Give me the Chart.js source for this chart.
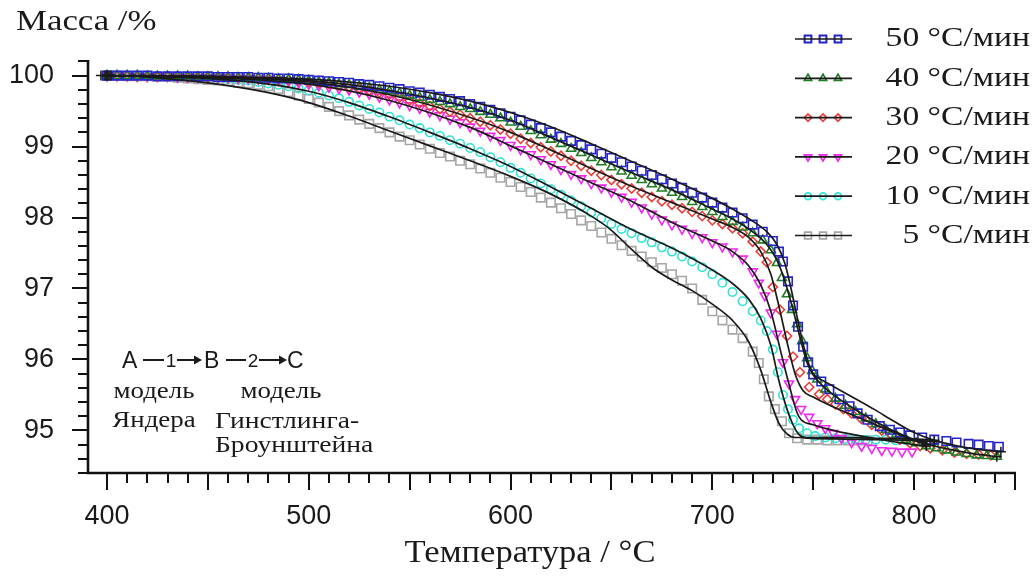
<!DOCTYPE html>
<html>
<head>
<meta charset="utf-8">
<script src="https://cdn.jsdelivr.net/npm/chart.js@4.4.1/dist/chart.umd.min.js"></script>
<style>
  html, body { margin: 0; padding: 0; background: #fff; }
  #wrap { width: 1036px; height: 578px; position: relative; }
</style>
</head>
<body>
<div id="wrap"><canvas id="tga"></canvas></div>
<script>
// скорости нагрева
const rates = ['50 °C/мин', '40 °C/мин', '30 °C/мин', '20 °C/мин', '10 °C/мин', '5 °C/мин'];

// общие температуры для экспериментальных точек, 400...720 °C
const tempMain = [
  400, 405, 410, 415, 420, 425, 430, 435, 440, 445,
  450, 455, 460, 465, 470, 475, 480, 485, 490, 495,
  500, 505, 510, 515, 520, 525, 530, 535, 540, 545,
  550, 555, 560, 565, 570, 575, 580, 585, 590, 595,
  600, 605, 610, 615, 620, 625, 630, 635, 640, 645,
  650, 655, 660, 665, 670, 675, 680, 685, 690, 695,
  700, 705, 710, 715, 720
];

// масса (%) в точках tempMain
const mass50 = [
  100.00, 100.00, 100.00, 100.00, 100.00, 99.99, 99.99, 99.99, 99.99, 99.99,
  99.99, 99.98, 99.98, 99.98, 99.98, 99.97, 99.97, 99.96, 99.96, 99.95,
  99.94, 99.93, 99.92, 99.91, 99.90, 99.88, 99.87, 99.85, 99.83, 99.81,
  99.78, 99.76, 99.73, 99.70, 99.67, 99.64, 99.60, 99.56, 99.52, 99.47,
  99.42, 99.37, 99.31, 99.26, 99.20, 99.14, 99.08, 99.02, 98.96, 98.90,
  98.84, 98.78, 98.72, 98.66, 98.60, 98.54, 98.48, 98.42, 98.35, 98.28,
  98.21, 98.14, 98.07, 97.99, 97.90
];
const mass40 = [
  100.00, 100.00, 100.00, 100.00, 99.99, 99.99, 99.99, 99.99, 99.99, 99.98,
  99.98, 99.98, 99.98, 99.97, 99.97, 99.97, 99.96, 99.95, 99.95, 99.94,
  99.93, 99.91, 99.90, 99.88, 99.87, 99.85, 99.83, 99.80, 99.78, 99.75,
  99.72, 99.69, 99.66, 99.63, 99.60, 99.56, 99.53, 99.49, 99.45, 99.40,
  99.34, 99.28, 99.22, 99.16, 99.10, 99.04, 98.97, 98.91, 98.84, 98.78,
  98.71, 98.65, 98.59, 98.53, 98.47, 98.41, 98.35, 98.29, 98.22, 98.15,
  98.08, 98.01, 97.94, 97.86, 97.78
];
const mass30 = [
  100.00, 100.00, 100.00, 99.99, 99.99, 99.99, 99.99, 99.99, 99.98, 99.98,
  99.98, 99.98, 99.97, 99.97, 99.97, 99.96, 99.96, 99.95, 99.94, 99.93,
  99.91, 99.90, 99.88, 99.86, 99.84, 99.82, 99.79, 99.76, 99.73, 99.69,
  99.65, 99.61, 99.57, 99.53, 99.49, 99.45, 99.40, 99.35, 99.30, 99.24,
  99.18, 99.11, 99.05, 98.99, 98.93, 98.87, 98.80, 98.73, 98.66, 98.60,
  98.53, 98.47, 98.41, 98.35, 98.29, 98.23, 98.18, 98.13, 98.08, 98.02,
  97.96, 97.91, 97.85, 97.78, 97.66
];
const mass20 = [
  100.00, 100.00, 100.00, 99.99, 99.99, 99.99, 99.99, 99.98, 99.98, 99.98,
  99.97, 99.97, 99.97, 99.96, 99.96, 99.95, 99.95, 99.94, 99.92, 99.90,
  99.88, 99.86, 99.84, 99.82, 99.80, 99.77, 99.74, 99.70, 99.66, 99.62,
  99.58, 99.54, 99.49, 99.44, 99.39, 99.34, 99.28, 99.22, 99.15, 99.09,
  99.02, 98.96, 98.89, 98.82, 98.75, 98.68, 98.61, 98.55, 98.48, 98.42,
  98.36, 98.29, 98.22, 98.14, 98.05, 97.97, 97.90, 97.84, 97.78, 97.72,
  97.65, 97.59, 97.52, 97.42, 97.24
];
const mass10 = [
  100.00, 100.00, 100.00, 99.99, 99.99, 99.99, 99.99, 99.98, 99.98, 99.97,
  99.97, 99.96, 99.95, 99.94, 99.93, 99.91, 99.89, 99.87, 99.85, 99.82,
  99.79, 99.76, 99.72, 99.68, 99.63, 99.58, 99.53, 99.48, 99.42, 99.37,
  99.31, 99.26, 99.20, 99.15, 99.09, 99.04, 98.98, 98.92, 98.85, 98.78,
  98.70, 98.63, 98.55, 98.48, 98.40, 98.32, 98.24, 98.16, 98.07, 97.99,
  97.91, 97.84, 97.78, 97.71, 97.65, 97.58, 97.52, 97.45, 97.38, 97.30,
  97.20, 97.08, 96.95, 96.82, 96.68
];
const mass5 = [
  100.00, 100.00, 99.99, 99.99, 99.99, 99.98, 99.98, 99.97, 99.96, 99.95,
  99.94, 99.93, 99.92, 99.90, 99.89, 99.87, 99.85, 99.81, 99.77, 99.72,
  99.67, 99.62, 99.56, 99.50, 99.44, 99.38, 99.32, 99.26, 99.20, 99.14,
  99.09, 99.03, 98.97, 98.91, 98.86, 98.80, 98.75, 98.69, 98.63, 98.56,
  98.50, 98.43, 98.36, 98.28, 98.21, 98.13, 98.05, 97.96, 97.88, 97.79,
  97.70, 97.61, 97.53, 97.45, 97.37, 97.29, 97.20, 97.11, 97.00, 96.84,
  96.68, 96.55, 96.42, 96.30, 96.11
];

// участок резкой потери массы и выход на плато (выше 720 °C)
const tail50T = [725, 730, 733, 735, 737.5, 740, 742.5, 745, 747.5, 750, 754, 758, 763, 768, 772, 777, 783, 788, 793, 798, 804, 810, 816, 821, 827, 832, 837, 842];
const tail50M = [97.80, 97.67, 97.52, 97.38, 97.10, 96.76, 96.46, 96.18, 95.96, 95.79, 95.69, 95.58, 95.44, 95.34, 95.24, 95.15, 95.06, 95.01, 94.97, 94.93, 94.90, 94.87, 94.85, 94.83, 94.81, 94.80, 94.78, 94.77];
const tail40T = [725, 729, 732, 734.5, 737, 739.5, 742, 744.5, 747, 749.5, 752, 756, 761, 766, 771, 776, 781, 786, 791, 796, 801, 806, 811, 816, 821, 826, 831, 836, 841];
const tail40M = [97.68, 97.54, 97.36, 97.15, 96.92, 96.70, 96.50, 96.26, 96.02, 95.84, 95.72, 95.58, 95.45, 95.35, 95.26, 95.17, 95.09, 95.01, 94.94, 94.87, 94.82, 94.78, 94.75, 94.72, 94.69, 94.67, 94.65, 94.64, 94.63];
const tail30T = [724, 727, 730, 733.5, 737, 740, 743.4, 748, 753, 757, 761, 765, 769, 774, 779, 784, 789, 793, 798, 803, 808, 814, 820, 826, 832, 838];
const tail30M = [97.52, 97.37, 97.02, 96.70, 96.33, 96.04, 95.82, 95.61, 95.51, 95.44, 95.37, 95.30, 95.24, 95.16, 95.08, 95.00, 94.93, 94.87, 94.82, 94.78, 94.75, 94.72, 94.69, 94.67, 94.66, 94.65];
const tail20T = [723, 726, 729, 732, 735, 738, 741, 744, 748, 752, 756, 760, 764, 769, 774, 779, 784, 789, 794, 799];
const tail20M = [97.08, 96.90, 96.66, 96.36, 95.96, 95.66, 95.44, 95.30, 95.19, 95.10, 95.03, 94.96, 94.89, 94.83, 94.78, 94.75, 94.72, 94.71, 94.70, 94.70];
const tail10T = [724, 727, 730, 732.5, 735, 737.5, 740, 743, 747, 751, 756, 761, 766, 771, 776, 781, 786, 791, 796];
const tail10M = [96.55, 96.40, 96.14, 95.82, 95.50, 95.30, 95.15, 95.03, 94.96, 94.92, 94.90, 94.89, 94.88, 94.88, 94.87, 94.87, 94.87, 94.86, 94.86];
const tail5T = [723, 725.5, 728, 731, 734.5, 738, 742, 747, 752, 757, 762, 767, 772, 777];
const tail5M = [95.95, 95.72, 95.48, 95.30, 95.13, 94.96, 94.89, 94.87, 94.87, 94.86, 94.86, 94.86, 94.86, 94.86];

// расчётные кривые (модель Яндера -> модель Гинстлинга-Броунштейна)
const fit50T = [397, 420, 450, 480, 500, 520, 540, 560, 580, 600, 620, 640, 660, 680, 700, 710, 720, 727, 732, 736, 739, 742, 745, 748, 750, 755, 760, 770, 780, 790, 800, 810, 820, 830, 843];
const fit50M = [100.00, 100.00, 99.99, 99.97, 99.95, 99.91, 99.85, 99.76, 99.64, 99.48, 99.28, 99.04, 98.79, 98.54, 98.27, 98.12, 97.95, 97.80, 97.62, 97.35, 97.00, 96.60, 96.22, 95.92, 95.80, 95.70, 95.62, 95.46, 95.30, 95.13, 94.97, 94.86, 94.79, 94.74, 94.70];
const fit40T = [399, 450, 500, 540, 580, 600, 620, 640, 660, 680, 700, 710, 720, 727, 732, 736, 740, 744, 747, 750, 755, 760, 770, 780, 790, 800, 810, 820, 830, 841];
const fit40M = [100.00, 99.99, 99.93, 99.79, 99.55, 99.37, 99.13, 98.88, 98.63, 98.39, 98.12, 97.98, 97.80, 97.62, 97.40, 97.10, 96.70, 96.25, 95.95, 95.78, 95.62, 95.50, 95.31, 95.14, 94.99, 94.87, 94.78, 94.72, 94.67, 94.63];
const fit30T = [400, 450, 500, 540, 580, 600, 620, 640, 660, 680, 700, 710, 718, 724, 729, 733, 737, 741, 745, 750, 760, 770, 780, 790, 800, 806];
const fit30M = [100.00, 99.98, 99.91, 99.73, 99.41, 99.20, 98.95, 98.69, 98.44, 98.21, 97.98, 97.86, 97.72, 97.52, 97.20, 96.75, 96.25, 95.80, 95.56, 95.47, 95.33, 95.21, 95.09, 94.97, 94.86, 94.80];
const fit20T = [400, 450, 500, 540, 580, 600, 620, 640, 660, 680, 700, 710, 718, 724, 729, 734, 738, 742, 744, 750, 760, 770, 780, 790, 800, 806];
const fit20M = [100.00, 99.97, 99.88, 99.65, 99.27, 99.01, 98.75, 98.49, 98.23, 97.93, 97.67, 97.52, 97.32, 97.05, 96.68, 96.10, 95.65, 95.25, 95.15, 95.08, 95.00, 94.94, 94.89, 94.84, 94.80, 94.78];
const fit10T = [401, 450, 480, 500, 520, 540, 560, 580, 600, 620, 640, 660, 680, 700, 710, 718, 724, 729, 733, 737, 740, 743, 747, 760, 780, 800, 810];
const fit10M = [100.00, 99.96, 99.88, 99.78, 99.62, 99.42, 99.20, 98.97, 98.72, 98.43, 98.13, 97.83, 97.57, 97.26, 97.07, 96.85, 96.58, 96.20, 95.70, 95.30, 95.08, 94.94, 94.89, 94.88, 94.87, 94.86, 94.84];
const fit5T = [402, 420, 440, 460, 480, 500, 520, 540, 560, 580, 600, 620, 640, 650, 660, 670, 680, 690, 700, 710, 718, 724, 729, 733, 737, 741, 760, 780, 800, 810];
const fit5M = [100.00, 99.98, 99.93, 99.86, 99.76, 99.62, 99.43, 99.22, 99.01, 98.80, 98.58, 98.33, 98.02, 97.82, 97.55, 97.30, 97.12, 96.97, 96.78, 96.55, 96.25, 95.85, 95.40, 95.10, 94.95, 94.90, 94.90, 94.89, 94.88, 94.86];

// подписи осей
const xLabels = [400, 500, 600, 700, 800];
const yLabels = [95, 96, 97, 98, 99, 100];

function pts(ts, ms) {
  return ts.map((t, i) => ({ x: t, y: ms[i] }));
}

const expSeries = [
  { main: mass50, tT: tail50T, tM: tail50M, color: '#2424c8', style: 'rect', rot: 0, r: 6 },
  { main: mass40, tT: tail40T, tM: tail40M, color: '#1f7d24', style: 'triangle', rot: 0, r: 5.2 },
  { main: mass30, tT: tail30T, tM: tail30M, color: '#e8403c', style: 'rectRot', rot: 0, r: 4.6 },
  { main: mass20, tT: tail20T, tM: tail20M, color: '#f028f0', style: 'triangle', rot: 180, r: 5.2 },
  { main: mass10, tT: tail10T, tM: tail10M, color: '#2ee4d4', style: 'circle', rot: 0, r: 4.2 },
  { main: mass5, tT: tail5T, tM: tail5M, color: '#a6a6a6', style: 'rect', rot: 0, r: 6 }
];
const fits = [[fit50T, fit50M], [fit40T, fit40M], [fit30T, fit30M], [fit20T, fit20M], [fit10T, fit10M], [fit5T, fit5M]];

const datasets = [];
expSeries.forEach((s, i) => {
  datasets.push({
    label: rates[i],
    data: pts(tempMain, s.main).concat(pts(s.tT, s.tM)),
    showLine: false,
    pointStyle: s.style,
    rotation: s.rot,
    pointRadius: s.r,
    borderColor: s.color,
    backgroundColor: 'rgba(255,255,255,0)',
    pointBorderWidth: 1.6,
    order: 1
  });
});
fits.forEach((f, i) => {
  datasets.push({
    label: 'fit ' + rates[i],
    data: pts(f[0], f[1]),
    showLine: true,
    borderColor: '#1a1a1a',
    borderWidth: 1.7,
    cubicInterpolationMode: 'monotone',
    pointStyle: 'cross',
    pointBorderColor: '#1a1a1a',
    pointBorderWidth: 1.5,
    // крестики только на концах расчётной кривой
    pointRadius: c => (c.dataIndex === 0 || c.dataIndex === f[0].length - 1) ? 5 : 0,
    order: 0
  });
});

function scaledText(ctx, str, x, y, font, align, sx) {
  ctx.save();
  ctx.translate(x, y);
  ctx.scale(sx, 1);
  ctx.font = font;
  ctx.textAlign = align;
  ctx.textBaseline = 'middle';
  ctx.fillText(str, 0, 0);
  ctx.restore();
}

// стрелка "—n→" схемы реакции
function stageArrow(ctx, x0, xNum, x1, y, num, font) {
  ctx.lineWidth = 2;
  ctx.beginPath();
  ctx.moveTo(x0, y);
  ctx.lineTo(xNum - 7, y);
  ctx.moveTo(xNum + 6, y);
  ctx.lineTo(x1 - 6, y);
  ctx.stroke();
  ctx.beginPath();
  ctx.moveTo(x1, y);
  ctx.lineTo(x1 - 8, y - 4.5);
  ctx.lineTo(x1 - 8, y + 4.5);
  ctx.closePath();
  ctx.fill();
  ctx.font = font;
  ctx.textAlign = 'center';
  ctx.textBaseline = 'alphabetic';
  ctx.fillText(num, xNum, y + 7);
}

// оси с основными и промежуточными делениями
const axisTicks = {
  id: 'axisTicks',
  afterDraw(chart) {
    const { ctx, chartArea: a, scales: { x, y } } = chart;
    ctx.save();
    ctx.strokeStyle = '#111';
    ctx.lineWidth = 2.6;
    ctx.beginPath();
    ctx.moveTo(a.left, a.top);
    ctx.lineTo(a.left, a.bottom);
    ctx.lineTo(a.right + 1, a.bottom);
    ctx.stroke();

    ctx.lineWidth = 2;
    ctx.beginPath();
    for (let t = 400; t <= 850; t += 10) {
      const px = Math.round(x.getPixelForValue(t));
      const len = t % 50 === 0 ? 17 : 10;
      ctx.moveTo(px, a.bottom);
      ctx.lineTo(px, a.bottom + len);
    }
    for (let k = 0; k <= 29; k++) {
      const v = 94.4 + k * 0.2;
      const py = Math.round(y.getPixelForValue(v));
      const len = k % 5 === 3 ? 16 : 10;
      ctx.moveTo(a.left, py);
      ctx.lineTo(a.left - len, py);
    }
    ctx.stroke();
    ctx.restore();
  }
};

// подписи, схема реакции и легенда
const extras = {
  id: 'extras',
  afterDraw(chart) {
    const ctx = chart.ctx;
    ctx.save();
    ctx.fillStyle = '#1a1a1a';
    ctx.strokeStyle = '#1a1a1a';
    const serif = '"Liberation Serif", "Times New Roman", serif';
    const sans = '"Liberation Sans", Arial, sans-serif';

    scaledText(ctx, 'Масса /%', 16, 22, '29px ' + serif, 'left', 1.2);
    scaledText(ctx, 'Температура / °C', 530, 554, '32px ' + serif, 'center', 1.08);

    // A —1→ B —2→ C
    ctx.font = '23px ' + sans;
    ctx.textAlign = 'left';
    ctx.textBaseline = 'alphabetic';
    ctx.fillText('A', 122, 368);
    ctx.fillText('B', 204, 368);
    ctx.fillText('C', 287, 368);
    stageArrow(ctx, 143, 171, 202, 360, '1', '19px ' + sans);
    stageArrow(ctx, 226, 253, 287, 360, '2', '19px ' + sans);

    scaledText(ctx, 'модель', 154, 392, '24px ' + serif, 'center', 1.12);
    scaledText(ctx, 'Яндера', 154, 421, '24px ' + serif, 'center', 1.12);
    scaledText(ctx, 'модель', 281, 392, '24px ' + serif, 'center', 1.12);
    scaledText(ctx, 'Гинстлинга-', 215, 422, '24px ' + serif, 'left', 1.15);
    scaledText(ctx, 'Броунштейна', 215, 446, '24px ' + serif, 'left', 1.15);

    expSeries.forEach((s, i) => {
      const yRow = 39 + i * 39.3;
      ctx.strokeStyle = s.color;
      ctx.fillStyle = 'rgba(255,255,255,0)';
      [808, 823, 838].forEach(px => {
        Chart.helpers.drawPoint(ctx, { pointStyle: s.style, rotation: s.rot, radius: s.r * 0.8, borderWidth: 1.5 }, px, yRow);
      });
      ctx.strokeStyle = '#1a1a1a';
      ctx.lineWidth = 1.7;
      ctx.beginPath();
      ctx.moveTo(795, yRow);
      ctx.lineTo(852, yRow);
      ctx.stroke();
      ctx.fillStyle = '#1a1a1a';
      scaledText(ctx, rates[i], 1030, yRow, '28px ' + serif, 'right', 1.2);
    });
    ctx.restore();
  }
};

const tickFont = { family: '"Liberation Sans", Arial, sans-serif', size: 27 };

new Chart(document.getElementById('tga'), {
  type: 'scatter',
  data: { datasets: datasets },
  options: {
    responsive: true,
    maintainAspectRatio: false,
    animation: false,
    layout: { padding: { left: 0, top: 60, right: 21, bottom: 0 } },
    plugins: { legend: { display: false }, tooltip: { enabled: false } },
    scales: {
      x: {
        type: 'linear',
        min: 390.6,
        max: 850,
        grid: { display: false, drawTicks: false },
        border: { display: false },
        afterBuildTicks: s => { s.ticks = xLabels.map(v => ({ value: v })); },
        afterFit: s => { s.height = 105; },
        ticks: { font: tickFont, color: '#1a1a1a', padding: 27, maxRotation: 0 }
      },
      y: {
        type: 'linear',
        min: 94.4,
        max: 100.22,
        grid: { display: false, drawTicks: false },
        border: { display: false },
        afterBuildTicks: s => { s.ticks = yLabels.map(v => ({ value: v })); },
        afterFit: s => { s.width = 88; },
        ticks: { font: tickFont, color: '#1a1a1a', padding: 34 }
      }
    }
  },
  plugins: [axisTicks, extras]
});
</script>
</body>
</html>
